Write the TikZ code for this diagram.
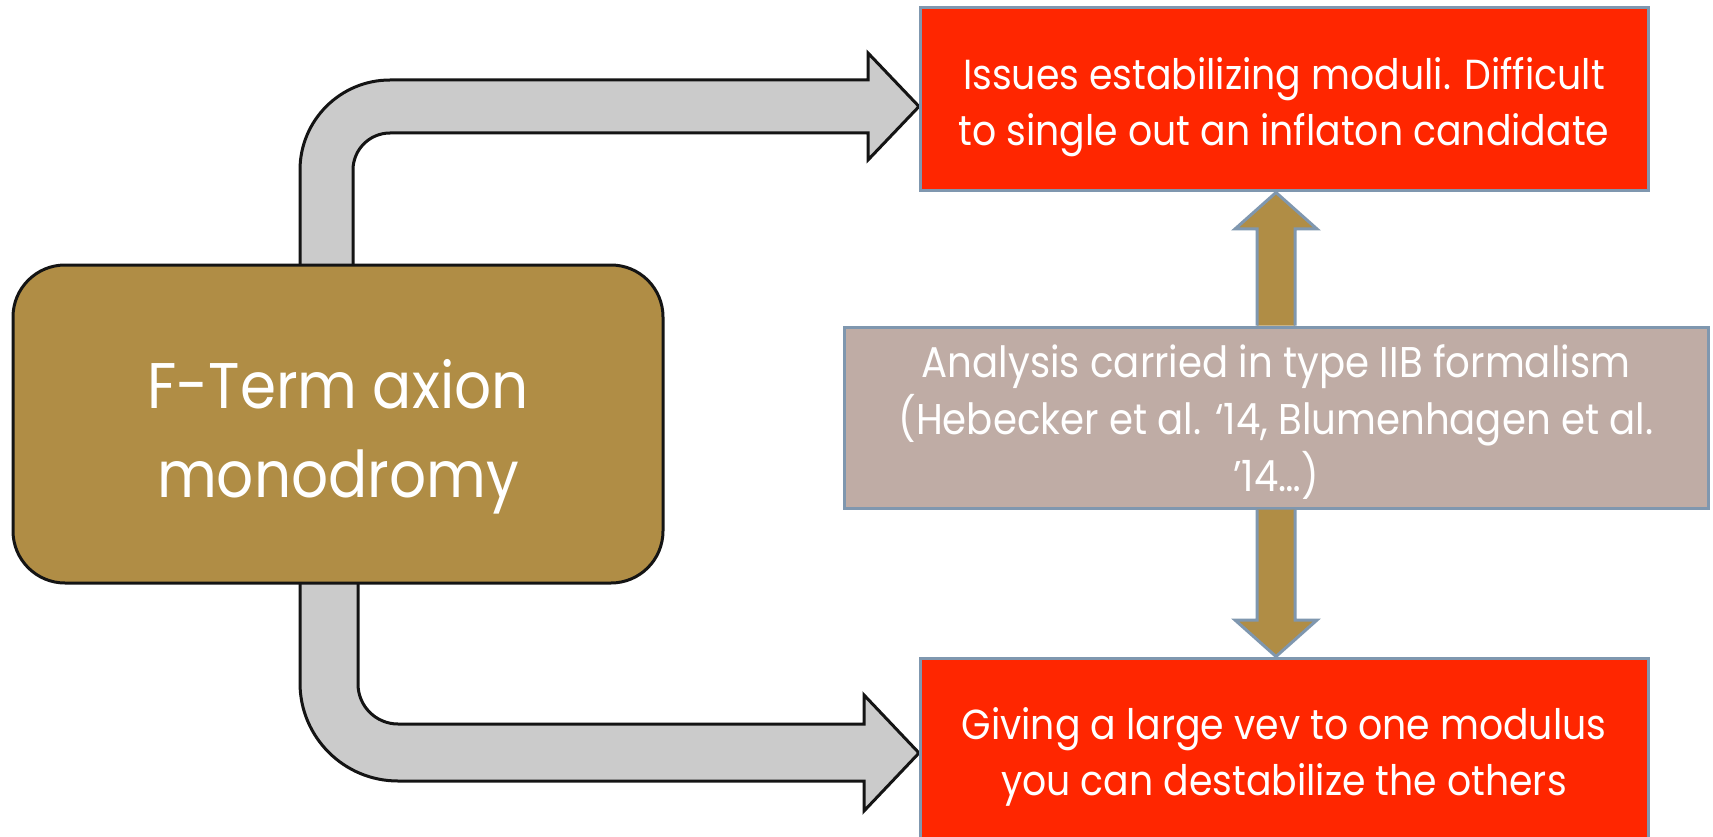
\documentclass[tikz,border=0pt]{standalone}
\usepackage{fontspec}
\setmainfont{Poppins}[FakeStretch=0.9]
\usetikzlibrary{backgrounds}
\definecolor{fred}{RGB}{255,38,0}
\definecolor{fbrown}{RGB}{176,141,69}
\definecolor{fgreybox}{RGB}{191,172,165}
\definecolor{fbord}{RGB}{127,151,175}
\definecolor{farrow}{RGB}{203,203,203}
\definecolor{fblack}{RGB}{20,20,20}
\begin{document}
\begin{tikzpicture}[x=1pt,y=-1pt,
  redbox/.style={draw=fbord, fill=fred, line width=3pt, inner sep=0pt,
    minimum width=728pt, minimum height=183pt},
  greybox/.style={draw=fbord, fill=fgreybox, line width=3pt, inner sep=0pt,
    minimum width=864pt, minimum height=181pt},
  mainbox/.style={draw=fblack, fill=fbrown, line width=3pt, rounded corners=52pt,
    inner sep=0pt, minimum width=650pt, minimum height=318pt},
  redtext/.style={text=white, align=center, inner sep=0pt, font=\fontsize{42}{56}\selectfont},
  greytext/.style={text=white, align=center, inner sep=0pt, font=\fontsize{43}{57}\selectfont},
  maintext/.style={text=white, align=center, inner sep=0pt, font=\fontsize{64.5}{89}\selectfont},
  bentarrow/.style={draw=fblack, fill=farrow, line width=3pt, line join=miter},
  brownarrow/.style={draw=fbord, fill=fbrown, line width=3pt, line join=miter}]
\useasboundingbox (0,0) rectangle (1713,837);
% boxes
\node[mainbox] (main) at (338,424) {};
\node[redbox] (top) at (1284,99.5) {};
\node[greybox] (mid) at (1276,417.5) {};
\node[redbox] (bot) at (1284,749.5) {};
% texts
\node[maintext] (mainlbl) at ([yshift=-13pt]main.center) {F-Term axion\\monodromy};
\node[redtext] (toplbl) at ([yshift=-7.5pt]top.center) {Issues estabilizing moduli. Difficult\\to single out an inflaton candidate};
\node[greytext] (midlbl) at ([yshift=-4.5pt]mid.center) {Analysis carried in type IIB formalism\\(Hebecker et al. ‘14, Blumenhagen et al.\\’14…)};
\node[redtext] (botlbl) at ([yshift=-7pt]bot.center) {Giving a large vev to one modulus\\you can destabilize the others};
\begin{pgfonlayer}{background}
\fill[white] (0,0) rectangle (1713,837);
% top bent arrow
\coordinate (ttip) at (919,106.5);
\draw[bentarrow] (300,265) -- (300,170) arc[start angle=180, end angle=270, radius=90]
  -- (868,80) -- (868,53) -- (ttip) -- (868,160) -- (868,133) -- (390,133)
  arc[start angle=270, end angle=180, radius=37] -- (353,265);
% bottom bent arrow
\coordinate (btip) at (919,753);
\draw[bentarrow] (300,583) -- (300,683) arc[start angle=180, end angle=90, radius=98]
  -- (864,781) -- (864,811) -- (btip) -- (864,695) -- (864,724) -- (398,724)
  arc[start angle=90, end angle=180, radius=40] -- (358,583);
\end{pgfonlayer}
% brown vertical arrows
\draw[brownarrow] (mid.north -| 1257,0) -- (1257,229) -- (1235,229) -- (top.south -| 1276,0)
  -- (1317,229) -- (1295,229) -- (mid.north -| 1295,0);
\draw[brownarrow] (mid.south -| 1257,0) -- (1257,620) -- (1235,620) -- (bot.north -| 1276,0)
  -- (1317,620) -- (1295,620) -- (mid.south -| 1295,0);
\end{tikzpicture}
\end{document}
